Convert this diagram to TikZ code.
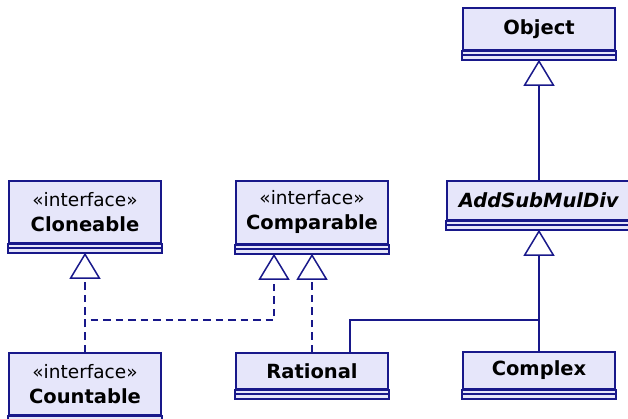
\documentclass[tikz,border=0pt]{standalone}
\usepackage{fontspec}
\setmainfont{DejaVu Sans}
\usetikzlibrary{arrows.meta}
\definecolor{umlline}{RGB}{24,24,138}
\definecolor{umlfill}{RGB}{230,230,250}
\tikzset{
  cls/.style={draw=umlline, fill=umlfill, line width=1.8pt, rectangle, inner sep=0pt,
    align=center, font=\fontsize{19.5}{25}\selectfont},
  comp/.style={draw=umlline, fill=umlfill, line width=1.8pt},
  conn/.style={draw=umlline, line width=1.5pt},
  gen/.style={conn, -{Triangle[open, length=26pt, width=31pt, line width=1.5pt]}},
  real/.style={gen, dash pattern=on 7.5pt off 5pt},
}
\newcommand\umlclass[6]{%
  \node[cls, minimum width=#4pt, minimum height=#5pt, anchor=north] (#1) at (#2,#3) {#6};
  \draw[comp] (#1.south west) rectangle ([yshift=-4pt]#1.south east);
  \draw[comp] ([yshift=-4pt]#1.south west) rectangle ([yshift=-9pt]#1.south east);
  \coordinate (#1-b) at ([yshift=-9pt]#1.south);
}
\newcommand\stereo{{\fontsize{18.5}{25}\selectfont «interface»}}
\begin{document}
\begin{tikzpicture}[x=1pt,y=-1pt]
\useasboundingbox (0,0) rectangle (628,419);
\umlclass{object}{539}{7}{152}{42}{\textbf{Object}}
\umlclass{addsub}{539}{180}{184}{39}{\textbf{\textit{AddSubMulDiv}}}
\umlclass{complex}{539}{351}{152}{37}{\textbf{Complex}}
\umlclass{rational}{312}{352}{152}{36}{\textbf{Rational}}
\umlclass{cloneable}{85}{180}{152}{62}{\stereo\\\textbf{Cloneable}}
\umlclass{comparable}{312}{180}{152}{63}{\stereo\\\textbf{Comparable}}
\umlclass{countable}{85}{352}{152}{62}{\stereo\\\textbf{Countable}}
\coordinate (j) at (539,320);
\coordinate (k) at (85,320);
\draw[gen] (addsub.north) -- (object-b);
\draw[gen] (complex.north) -- (addsub-b);
\draw[conn] ([xshift=38pt]rational.north) |- (j);
\draw[real] (countable.north) -- (cloneable-b);
\draw[real] (countable.north) -- (k) -| ([xshift=-38pt]comparable-b);
\draw[real] (rational.north) -- (comparable-b);
\end{tikzpicture}
\end{document}
